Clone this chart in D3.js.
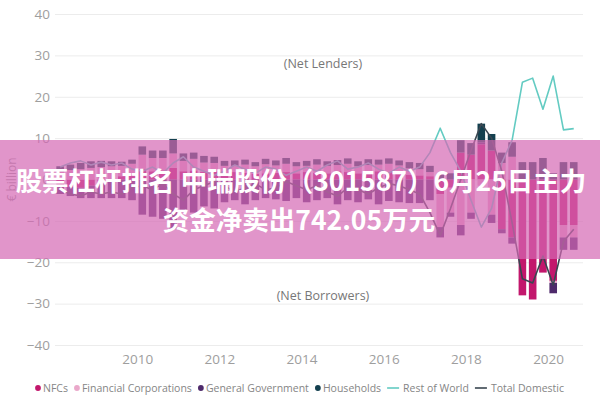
<!DOCTYPE html>
<html>
<head>
<meta charset="utf-8">
<script src="https://cdn.jsdelivr.net/npm/d3@7"></script>
<style>
  html, body { margin: 0; padding: 0; background: #fff; }
  svg { display: block; }
</style>
</head>
<body>
<svg id="chart"></svg>
<script>
// quarterly sector balances, € billion
const quarters = [
  "2008Q1","2008Q2","2008Q3","2008Q4","2009Q1","2009Q2","2009Q3","2009Q4",
  "2010Q1","2010Q2","2010Q3","2010Q4","2011Q1","2011Q2","2011Q3","2011Q4",
  "2012Q1","2012Q2","2012Q3","2012Q4","2013Q1","2013Q2","2013Q3","2013Q4",
  "2014Q1","2014Q2","2014Q3","2014Q4","2015Q1","2015Q2","2015Q3","2015Q4",
  "2016Q1","2016Q2","2016Q3","2016Q4","2017Q1","2017Q2","2017Q3","2017Q4",
  "2018Q1","2018Q2","2018Q3","2018Q4","2019Q1","2019Q2","2019Q3","2019Q4",
  "2020Q1","2020Q2","2020Q3"
]
const nfcs = [
  -1.5, -1.8, -2.0, -1.5, -1.0, -0.5, 0.8, 1.0,
  2.5, 2.0, 2.2, 2.8, 2.0, 2.2, 1.8, 2.0,
  1.5, 1.8, 1.6, 1.4, 1.5, 1.6, 1.8, 1.5,
  1.8, 1.6, 1.5, 2.0, 1.8, 1.5, 1.7, 2.0,
  1.8, 1.6, 1.2, 1.0, 0.8, -3.5, -2.0, 6.5,
  6.0, 8.5, 7.0, -12.0, -14.0, -28.0, -29.0, -22.5,
  -24.5, -11.0, -11.0
]
const financialCorps = [
  2.0, 2.3, 2.5, 2.8, 3.0, 3.2, 2.5, 2.8,
  3.5, 3.2, 3.0, 3.5, 2.5, 2.8, 2.3, 2.0,
  1.8, 1.5, 2.0, 1.8, 2.2, 1.8, 2.0, 1.7,
  1.5, 2.0, 1.8, 1.5, 2.0, 1.7, 1.8, 1.6,
  2.0, 1.8, 1.5, 1.5, 1.0, -8.0, -6.0, -11.0,
  -8.0, -1.5, -8.5, 4.0, 5.5, 0.0, 0.0, 0.0,
  -0.5, -3.0, -3.0
]
const generalGov = [
  -2.0, -2.2, -2.5, -3.0, -3.5, -4.0, -4.5, -5.0,
  -8.5, -9.0, -9.5, -12.0, -7.5, -8.0, -6.5, -7.0,
  -5.5, -5.0, -6.0, -5.0, -4.5, -4.8, -5.2, -4.5,
  -5.5, -5.0, -4.5, -6.0, -5.0, -5.5, -4.8, -6.0,
  -5.2, -5.5, -5.7, -5.7, -5.0, -2.5, -1.0, -2.5,
  -1.5, 0.5, -2.0, -1.0, -1.5, 0.0, 0.0, 0.0,
  -2.5, -3.0, -3.0
]
const households = [
  1.2, 1.3, 1.5, 1.6, 1.5, 1.2, 1.0, 1.0,
  2.0, 1.8, 1.8, 3.5, 1.8, 1.5, 1.6, 1.5,
  1.2, 1.3, 1.2, 1.0, 1.3, 1.2, 1.4, 1.0,
  1.2, 1.3, 1.1, 1.2, 1.3, 1.2, 1.4, 1.2,
  1.3, 1.2, 1.5, 1.5, 1.5, 1.2, 1.5, 3.0,
  2.8, 4.5, 4.0, 2.5, 3.5, 4.2, 4.2, 5.2,
  1.5, 4.2, 4.2
]
const restOfWorld = [
  3.0, 4.0, 4.5, 3.5, 4.2, 3.5, 4.0, 2.5,
  2.0, 3.0, 1.5, 4.0, 5.5, 3.0, 2.0, 1.0,
  2.0, 3.5, 2.5, 1.5, 3.0, 2.5, 1.0, 2.0,
  3.0, 2.0, 3.5, 4.5, 2.5, 3.0, 4.0, 2.5,
  1.5, 3.0, 2.0, 3.0, 6.5, 12.4, 6.5, 2.0,
  -5.0, -11.5, -7.0, 4.0, 9.5, 23.5, 24.5, 17.0,
  25.0, 12.0, 12.3
]
const totalDomestic = [
  -2.5, -3.5, -4.0, -3.0, -3.5, -3.0, -3.5, -2.0,
  -1.5, -2.5, -1.0, -3.5, -5.0, -2.5, -1.5, -0.5,
  -1.5, -3.0, -2.0, -1.0, -2.5, -2.0, -0.5, -1.5,
  -2.5, -1.5, -3.0, -4.0, -2.0, -2.5, -3.5, -2.0,
  -1.0, -1.5, -2.5, -3.5, -8.0, -13.5, -7.0, 0.0,
  7.0, 13.5, 10.0, 2.0, -10.5, -24.0, -25.0, -18.5,
  -25.5, -15.0, -12.0
]
const yTicks = [40, 30, 20, 10, 0, -10, -20, -30, -40]
const xTicks = [2010, 2012, 2014, 2016, 2018, 2020]

const sectors = [
  { key: "nfcs", label: "NFCs", color: "#c2176c", values: nfcs },
  { key: "fin", label: "Financial Corporations", color: "#eaa8ca", values: financialCorps },
  { key: "gov", label: "General Government", color: "#4e2a6b", values: generalGov },
  { key: "hh", label: "Households", color: "#14404f", values: households }
]
const lines = [
  { label: "Rest of World", color: "#63cbc2", values: restOfWorld },
  { label: "Total Domestic", color: "#3a4651", values: totalDomestic }
]

const title1 = "股票杠杆排名 中瑞股份（301587）6月25日主力"
const title2 = "资金净卖出742.05万元"

var svgWidth = 600, svgHeight = 400
var svg = d3.select("#chart")
  .attr("width", svgWidth)
  .attr("height", svgHeight)

// quarter label -> fractional year at the middle of the quarter
const qTime = q => +q.slice(0, 4) + (+q.slice(5) - 1) / 4 + 0.125

const table = quarters.map((q, i) => {
  const row = { q: q, t: qTime(q) }
  sectors.forEach(s => { row[s.key] = s.values[i] })
  return row
})

let x = d3.scaleLinear().domain([2008, 2020.85]).range([55, 583])
let y = d3.scaleLinear().domain([-40, 40]).range([345, 14])
const barW = 7.6

const font = "'Open Sans', 'Noto Sans', sans-serif"

// gridlines + y labels
const yAxis = svg.append("g")
  .attr("transform", "translate(55,0)")
  .call(d3.axisLeft(y).tickValues(yTicks).tickSize(-528).tickFormat(d3.format("d")))
yAxis.select(".domain").remove()
yAxis.selectAll(".tick line").attr("stroke", "#ececec").attr("stroke-width", 1)
yAxis.selectAll(".tick text")
  .attr("x", -5)
  .attr("fill", "#9e9e9e")
  .style("font-family", font)
  .style("font-size", "13.5px")

// x labels
const xAxis = svg.append("g")
  .attr("transform", "translate(0,348)")
  .call(d3.axisBottom(x).tickValues(xTicks).tickSize(0).tickFormat(d3.format("d")))
xAxis.select(".domain").remove()
xAxis.selectAll(".tick text")
  .attr("dy", "0.95em")
  .attr("fill", "#9e9e9e")
  .style("font-family", font)
  .style("font-size", "13.5px")

// y axis title
svg.append("text")
  .attr("transform", "translate(16," + y(0) + ") rotate(-90)")
  .attr("text-anchor", "middle")
  .attr("fill", "#9e9e9e")
  .style("font-family", font)
  .style("font-size", "12px")
  .text("€ billion")

// region notes
svg.append("text")
  .attr("x", 323).attr("y", y(28)).attr("dy", "0.35em")
  .attr("text-anchor", "middle").attr("fill", "#777")
  .style("font-family", font).style("font-size", "12.5px")
  .text("(Net Lenders)")
svg.append("text")
  .attr("x", 323).attr("y", y(-28)).attr("dy", "0.35em")
  .attr("text-anchor", "middle").attr("fill", "#777")
  .style("font-family", font).style("font-size", "12.5px")
  .text("(Net Borrowers)")

// stacked bars
const stack = d3.stack()
  .keys(sectors.map(s => s.key))
  .offset(d3.stackOffsetDiverging)
const series = stack(table)

svg.append("g").selectAll("g")
  .data(series)
  .join("g")
  .attr("fill", (d, i) => sectors[i].color)
  .selectAll("rect")
  .data(d => d)
  .join("rect")
  .attr("x", d => x(d.data.t) - barW / 2)
  .attr("width", barW)
  .attr("y", d => y(Math.max(d[0], d[1])))
  .attr("height", d => Math.abs(y(d[0]) - y(d[1])))

// lines
const line = d3.line()
  .x((d, i) => x(qTime(quarters[i])))
  .y(d => y(d))

lines.forEach(l => {
  svg.append("path")
    .datum(l.values)
    .attr("fill", "none")
    .attr("stroke", l.color)
    .attr("stroke-width", 1.6)
    .attr("stroke-linejoin", "round")
    .attr("d", line)
})

// legend
const legend = svg.append("g").attr("transform", "translate(35,388)")
let lx = 0
const addItem = (item, isLine) => {
  const g = legend.append("g").attr("transform", "translate(" + lx + ",0)")
  if (isLine) {
    g.append("line").attr("x1", 0).attr("x2", 12).attr("y1", 0).attr("y2", 0)
      .attr("stroke", item.color).attr("stroke-width", 1.6)
  } else {
    g.append("circle").attr("cx", 3).attr("cy", 0).attr("r", 2.9).attr("fill", item.color)
  }
  const t = g.append("text")
    .attr("x", isLine ? 16 : 8).attr("dy", "0.35em")
    .attr("fill", "#858585")
    .style("font-family", font).style("font-size", "10.5px")
    .text(item.label)
  lx += (isLine ? 16 : 8) + t.node().getComputedTextLength() + 6
}
sectors.forEach(s => addItem(s, false))
lines.forEach(l => addItem(l, true))

// pink banner over the chart
svg.append("rect")
  .attr("x", 0).attr("y", 140)
  .attr("width", svgWidth).attr("height", 119)
  .attr("fill", "#d468b4")
  .attr("fill-opacity", 0.7)

const banner = svg.append("g")
  .attr("fill", "#fff")
  .attr("text-anchor", "middle")
  .style("font-family", "'Noto Sans CJK SC', sans-serif")
  .style("font-weight", "bold")
  .style("font-size", "26.5px")
banner.append("text").attr("x", 301).attr("y", 181).attr("dy", "0.36em").text(title1)
banner.append("text").attr("x", 299).attr("y", 220).attr("dy", "0.36em").text(title2)
</script>
</body>
</html>
